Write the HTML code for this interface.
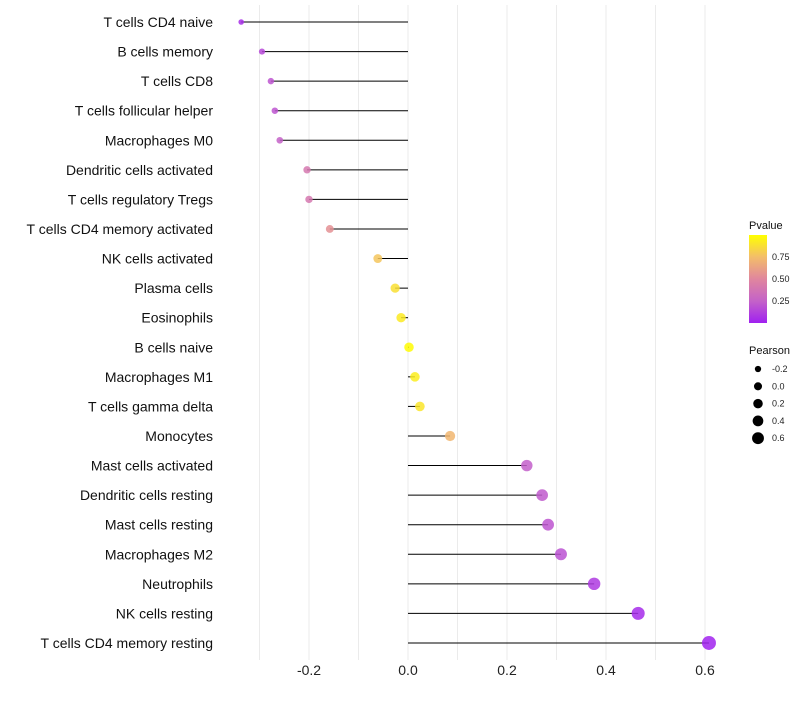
<!DOCTYPE html>
<html><head><meta charset="utf-8"><style>
body{margin:0;background:#fff;font-family:"Liberation Sans",sans-serif}
</style></head><body>
<svg id="chart" width="800" height="700" xmlns="http://www.w3.org/2000/svg">
<defs>
<linearGradient id="pgrad" x1="0" y1="1" x2="0" y2="0">
<stop offset="0" stop-color="#A020F0"/><stop offset="0.25" stop-color="#C462C8"/><stop offset="0.5" stop-color="#E0869E"/><stop offset="0.75" stop-color="#F3BD6A"/><stop offset="1" stop-color="#FFFF00"/>
</linearGradient>
</defs>
<g id="grid"></g>
<g id="marks"></g>
<g id="axes"></g>
<g id="legend"></g>
</svg>
<script>
const categories=["T cells CD4 naive","B cells memory","T cells CD8","T cells follicular helper","Macrophages M0","Dendritic cells activated","T cells regulatory  Tregs","T cells CD4 memory activated","NK cells activated","Plasma cells","Eosinophils","B cells naive","Macrophages M1","T cells gamma delta","Monocytes","Mast cells activated","Dendritic cells resting","Mast cells resting","Macrophages M2","Neutrophils","NK cells resting","T cells CD4 memory resting"];
const pearson=[-0.337,-0.295,-0.277,-0.269,-0.259,-0.204,-0.200,-0.158,-0.061,-0.026,-0.014,0.002,0.014,0.024,0.085,0.240,0.271,0.283,0.309,0.376,0.465,0.608];
const pvalue=[0.05,0.15,0.2,0.2,0.25,0.4,0.4,0.55,0.78,0.88,0.92,0.99,0.93,0.9,0.72,0.24,0.22,0.2,0.19,0.1,0.04,0.01];
const xTicks=[-0.2,0,0.2,0.4,0.6];
const xTickLabels=["-0.2","0.0","0.2","0.4","0.6"];
const sizeLegend=[-0.2,0,0.2,0.4,0.6];
const colorTicks=[0.25,0.5,0.75];
const NS="http://www.w3.org/2000/svg";
const x=v=>408+v*495;
const y=i=>22+i*29.57;
const r=v=>Math.sqrt(Math.max(2,22.4+43.6*v));
const stops=[[160,32,240],[196,98,200],[224,134,158],[243,189,106],[255,255,0]];
function col(p){const s=Math.min(3.999,Math.max(0,p*4));const k=Math.floor(s),t=s-k;const a=stops[k],b=stops[k+1];return `rgb(${a.map((c,i)=>Math.round(c+(b[i]-c)*t))})`;}
function el(tag,attrs,parent,txt){const e=document.createElementNS(NS,tag);for(const k in attrs)e.setAttribute(k,attrs[k]);if(txt!=null)e.textContent=txt;parent.appendChild(e);return e;}
const grid=document.getElementById('grid'),marks=document.getElementById('marks'),axes=document.getElementById('axes'),legend=document.getElementById('legend');
[-0.3,-0.2,-0.1,0,0.1,0.2,0.3,0.4,0.5,0.6].forEach(v=>{const g=el('line',{x1:x(v),x2:x(v),y1:5,y2:660,stroke:'#ebebeb','stroke-width':1},grid);

});
categories.forEach((c,i)=>{
const s=el('line',{x1:x(0),x2:x(pearson[i]),y1:y(i),y2:y(i),stroke:'#000','stroke-width':1},marks);


const p=el('circle',{cx:x(pearson[i]),cy:y(i),r:r(pearson[i]),fill:col(pvalue[i]),'fill-opacity':0.85},marks);


const t=el('text',{x:213,y:y(i)+5,'text-anchor':'end','font-size':14,fill:'#111'},axes,c);

});
xTicks.forEach((v,i)=>{const t=el('text',{x:x(v),y:675,'text-anchor':'middle','font-size':14,fill:'#222'},axes,xTickLabels[i]);

});
const lt=el('text',{x:749,y:229,'font-size':11,fill:'#111'},legend,'Pvalue');


const bar=el('rect',{x:749,y:235,width:18,height:88,fill:'url(#pgrad)'},legend);


colorTicks.forEach(v=>{const yy=323-v*88;
const t=el('text',{x:772,y:yy+3,'font-size':9,fill:'#222'},legend,v.toFixed(2));

});
const st=el('text',{x:749,y:354,'font-size':11,fill:'#111'},legend,'Pearson');


sizeLegend.forEach((v,i)=>{const yy=369+i*17.3;
const c=el('circle',{cx:758,cy:yy,r:r(v)*0.85,fill:'#000'},legend);


const t=el('text',{x:772,y:yy+3,'font-size':9,fill:'#222'},legend,v.toFixed(1));

});
</script>
</body></html>
